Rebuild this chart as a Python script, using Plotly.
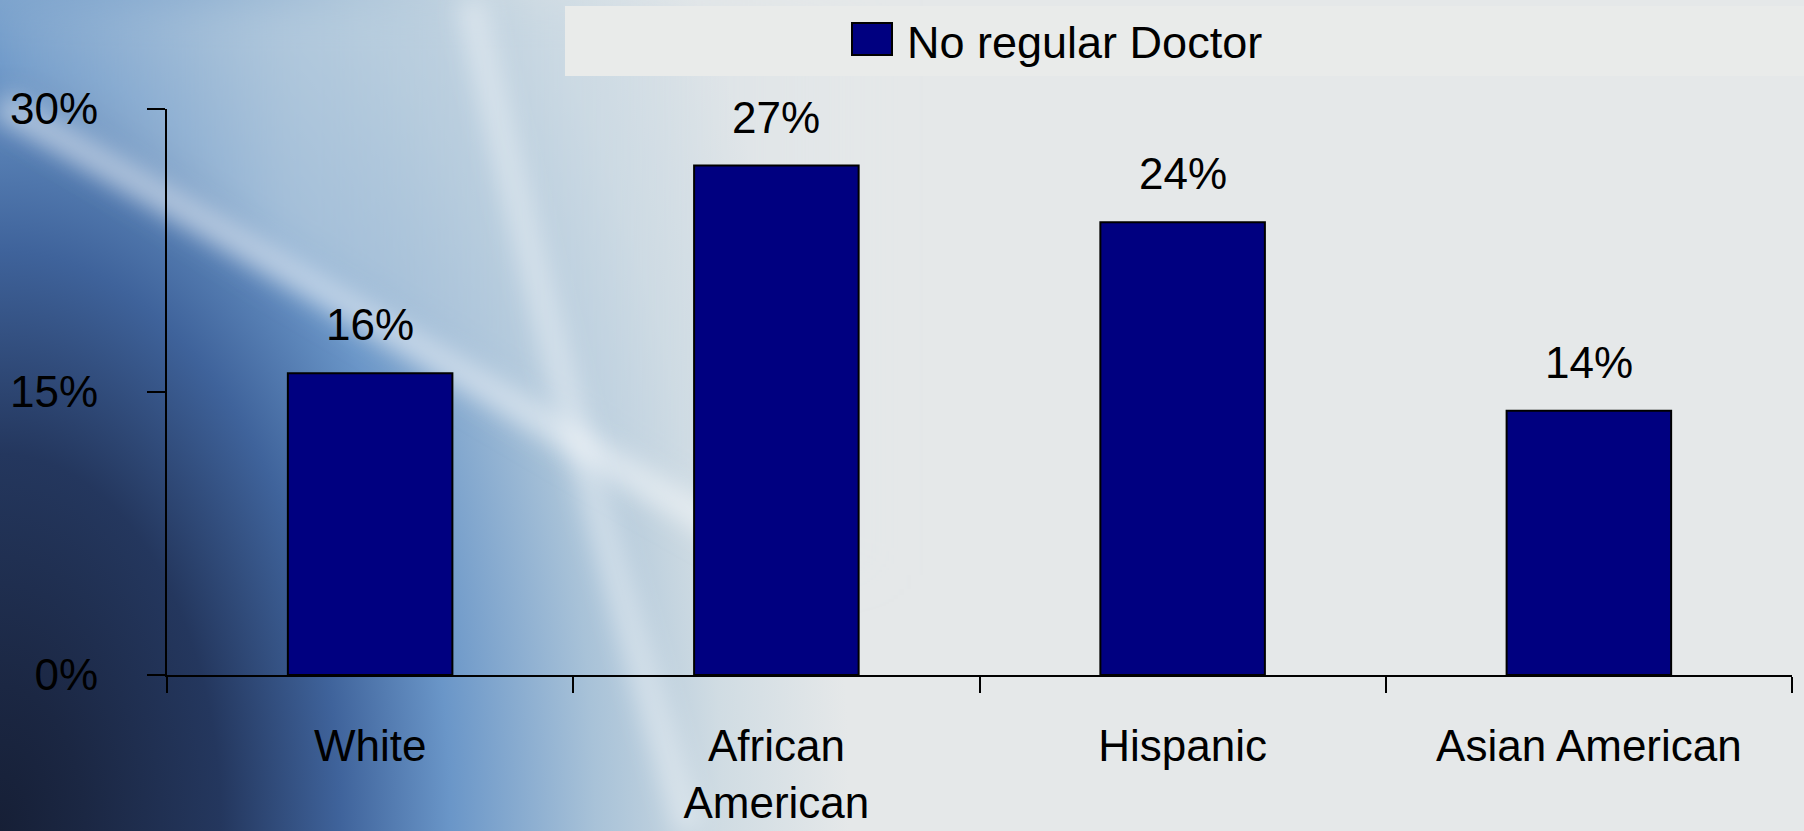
import urllib.parse
import plotly.graph_objects as go

# ---- data ----
categories = ["White", "African<br>American", "Hispanic", "Asian American"]
values = [16, 27, 24, 14]
series_name = "No regular Doctor"
y_ticks = [0, 15, 30]
y_ticklabels = ["0%", "15%", "30%"]

W, H = 1804, 831
L, R, T, B = 167, 12, 109, 156
PW, PH = W - L - R, H - T - B


def px(x):
    return (x - L) / PW


def py(y):
    return (H - B - y) / PH


FONT = "Arial, 'Liberation Sans', sans-serif"

svg = """<svg xmlns="http://www.w3.org/2000/svg" width="1804" height="831" viewBox="0 0 1804 831" preserveAspectRatio="none">
<defs>
<radialGradient id="g1" gradientUnits="userSpaceOnUse" cx="0" cy="831" r="1000" gradientTransform="translate(0,831) scale(0.85,1.45) translate(0,-831)">
<stop offset="0" stop-color="#161f36"/>
<stop offset="0.1" stop-color="#1b2743"/>
<stop offset="0.26" stop-color="#24375e"/>
<stop offset="0.4" stop-color="#3f639b"/>
<stop offset="0.53" stop-color="#6a96c8"/>
<stop offset="0.7" stop-color="#a8c2d8"/>
<stop offset="0.85" stop-color="#d0dce3"/>
<stop offset="1" stop-color="#e5e8e9"/>
</radialGradient>
<linearGradient id="ov" gradientUnits="userSpaceOnUse" x1="0" y1="0" x2="900" y2="0">
<stop offset="0" stop-color="#bcd0e0" stop-opacity="0.15"/>
<stop offset="0.33" stop-color="#bcd0e0" stop-opacity="0.7"/>
<stop offset="0.7" stop-color="#c8d8e4" stop-opacity="0.4"/>
<stop offset="1" stop-color="#d8e1e6" stop-opacity="0"/>
</linearGradient>
<filter id="b1" x="-50%" y="-50%" width="200%" height="200%"><feGaussianBlur stdDeviation="11"/></filter>
<filter id="b2" x="-50%" y="-50%" width="200%" height="200%"><feGaussianBlur stdDeviation="22"/></filter>
</defs>
<rect width="1804" height="831" fill="url(#g1)"/>
<polygon points="0,95 800,575 900,575 900,0 0,0" fill="url(#ov)" filter="url(#b2)"/>
<path d="M0,105 Q330,290 820,590" stroke="#ffffff" stroke-opacity="0.45" stroke-width="30" fill="none" filter="url(#b1)"/>
<path d="M470,0 Q560,400 690,831" stroke="#ffffff" stroke-opacity="0.35" stroke-width="30" fill="none" filter="url(#b1)"/>
</svg>"""
bg_src = "data:image/svg+xml;charset=utf-8," + urllib.parse.quote(svg)

fig = go.Figure()
fig.add_trace(go.Bar(
    x=categories, y=values, name=series_name,
    marker=dict(color="#000080", line=dict(color="#000000", width=2)),
    width=0.405, showlegend=False, hoverinfo="skip",
))

annotations = []
for c, v in zip(categories, values):
    annotations.append(dict(
        x=c, y=v, xref="x", yref="y", text=f"{v}%", showarrow=False,
        yanchor="bottom", yshift=22, font=dict(size=44, color="#000000", family=FONT),
    ))
# legend text
annotations.append(dict(
    x=px(905), y=py(42), xref="paper", yref="paper", text=series_name,
    showarrow=False, xanchor="left", yanchor="middle",
    font=dict(size=45, color="#000000", family=FONT),
))

shapes = [
    dict(type="rect", xref="paper", yref="paper", x0=px(565), x1=px(1804), y0=py(6), y1=py(76),
         fillcolor="#e9ebea", line=dict(width=0), layer="below"),
    dict(type="rect", xref="paper", yref="paper", x0=px(852), x1=px(892), y0=py(23), y1=py(55),
         fillcolor="#000080", line=dict(color="#000000", width=2), layer="above"),
]

fig.update_layout(
    width=W, height=H,
    margin=dict(l=L, r=R, t=T, b=B, pad=0, autoexpand=False),
    paper_bgcolor="#e5e8e9",
    plot_bgcolor="rgba(0,0,0,0)",
    font=dict(family=FONT, color="#000000"),
    showlegend=False,
    images=[dict(source=bg_src, xref="paper", yref="paper", x=px(0), y=py(0),
                 sizex=W / PW, sizey=H / PH, sizing="stretch", layer="below",
                 xanchor="left", yanchor="top")],
    shapes=shapes,
    annotations=annotations,
    xaxis=dict(
        automargin=False,
        showline=True, linecolor="#000000", linewidth=2,
        ticks="outside", tickson="boundaries", ticklen=16, tickwidth=2, tickcolor="#000000",
        showgrid=False, zeroline=False,
        tickfont=dict(size=44, color="#000000", family=FONT),
        ticklabelstandoff=31,
    ),
    yaxis=dict(
        automargin=False,
        range=[0, 30], tickvals=y_ticks, ticktext=y_ticklabels,
        showline=True, linecolor="#000000", linewidth=2,
        ticks="outside", ticklen=18, tickwidth=2, tickcolor="#000000",
        showgrid=False, zeroline=False,
        tickfont=dict(size=44, color="#000000", family=FONT),
        ticklabelstandoff=40,
    ),
)

fig.write_html("out.html")
